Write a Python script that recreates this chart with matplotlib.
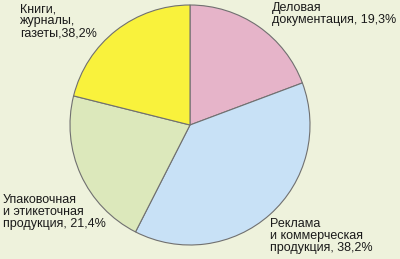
import matplotlib.pyplot as plt

# slice order: clockwise from the top
categories = ['Деловая документация', 'Реклама и коммерческая продукция',
              'Упаковочная и этикеточная продукция', 'Книги, журналы, газеты']
values = [19.3, 38.2, 21.4, 21.1]
labels = ['Деловая\nдокументация, 19,3%',
          'Реклама\nи коммерческая\nпродукция, 38,2%',
          'Упаковочная\nи этикеточная\nпродукция, 21,4%',
          'Книги,\nжурналы,\nгазеты,38,2%']
colors = ['#e6b4c9', '#c8e1f6', '#dce8bb', '#f9f23c']
bg = '#eef2dc'

plt.rcParams['font.family'] = ['Liberation Sans', 'DejaVu Sans']

fig = plt.figure(figsize=(4, 2.59), dpi=100)
fig.patch.set_facecolor(bg)

ax = fig.add_axes([70 / 400, 14 / 259, 240 / 400, 240 / 259])
ax.set_facecolor(bg)
ax.pie(values, colors=colors, startangle=90, counterclock=False,
       wedgeprops=dict(edgecolor='#707070', linewidth=0.8))
ax.set_xlim(-1, 1)
ax.set_ylim(-1, 1)
ax.axis('off')

# label positions in pixels (left, top)
label_pos = [(272, 2), (270, 218), (3, 194), (20, 3)]
for text, (x, y) in zip(labels, label_pos):
    fig.text(x / 400, 1 - y / 259, text, ha='left', va='top',
             fontsize=9, color='#1a1a1a', linespacing=1.0)

fig.savefig('out.png', dpi=100, facecolor=bg)
